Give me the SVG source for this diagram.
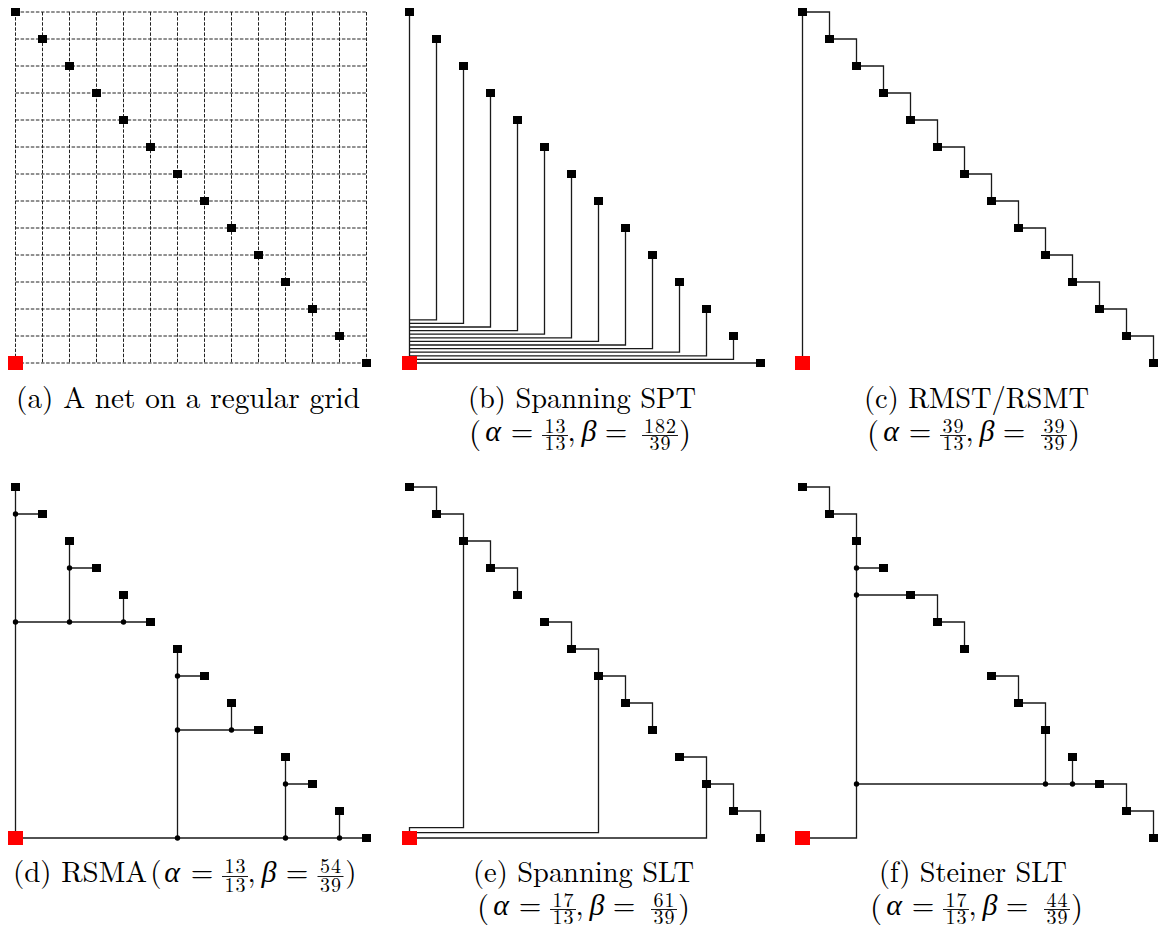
<svg xmlns="http://www.w3.org/2000/svg" width="1158" height="929" viewBox="0 0 1158 929">
<style>
.grid{stroke:#222;stroke-width:1;stroke-dasharray:3.5 1.6;fill:none}
.w{stroke:#1a1a1a;stroke-width:1.3;fill:none}
.bar{stroke:#000;stroke-width:0.9}
svg text{font-family:"Latin Modern Roman","Liberation Serif",serif !important;fill:#000}
.cap{font-size:29px}
.ml{font-size:29px;text-anchor:middle}
.gi{font-family:"Liberation Serif",serif;font-style:italic;font-size:30px}
.fr{font-size:20px;letter-spacing:1px}
.pb{font-size:31px}
</style>
<defs>
<rect id="sink" x="-4.5" y="-4" width="9" height="8" fill="#000"/>
<rect id="src" x="-7.5" y="-7" width="15" height="14" fill="#f00"/>
<circle id="stp" r="2.7" fill="#000"/>
</defs>
<rect width="1158" height="929" fill="#fff"/>

<!-- Panel (a) grid -->
<g id="grid-a" class="grid">
<path d="M15.5 12H366.5M15.5 39H366.5M15.5 66H366.5M15.5 93H366.5M15.5 120H366.5M15.5 147H366.5M15.5 174H366.5M15.5 201H366.5M15.5 228H366.5M15.5 255H366.5M15.5 282H366.5M15.5 309H366.5M15.5 336H366.5M15.5 363H366.5"/>
<path d="M15.5 12V363M42.5 12V363M69.5 12V363M96.5 12V363M123.5 12V363M150.5 12V363M177.5 12V363M204.5 12V363M231.5 12V363M258.5 12V363M285.5 12V363M312.5 12V363M339.5 12V363M366.5 12V363"/>
</g>

<!-- Connectors -->
<g id="connectors" class="w">
<g id="wires-b">
<path d="M409.5 363V12"/>
<path d="M409.5 319.8H436.5V39M409.5 323.4H463.5V66M409.5 327H490.5V93M409.5 330.6H517.5V120M409.5 334.2H544.5V147M409.5 337.8H571.5V174M409.5 341.4H598.5V201M409.5 345H625.5V228M409.5 348.6H652.5V255M409.5 352.2H679.5V282M409.5 355.8H706.5V309M409.5 359.4H733.5V336M409.5 363H760.5"/>
</g>
<g id="wires-c">
<path d="M802.5 363V12H829.5V39H856.5V66H883.5V93H910.5V120H937.5V147H964.5V174H991.5V201H1018.5V228H1045.5V255H1072.5V282H1099.5V309H1126.5V336H1153.5V363"/>
</g>
<g id="wires-d">
<path d="M15.5 487V838H366.5M15.5 514H42.5M15.5 622H150.5M69.5 541V622M69.5 568H96.5M123.5 595V622M177.5 649V838M177.5 676H204.5M177.5 730H258.5M231.5 703V730M285.5 757V838M285.5 784H312.5M339.5 811V838"/>
</g>
<g id="wires-e">
<path d="M409.5 487H436.5V514H463.5V541H490.5V568H517.5V595"/>
<path d="M544.5 622H571.5V649H598.5V676H625.5V703H652.5V730"/>
<path d="M679.5 757H706.5V784H733.5V811H760.5V838"/>
<path d="M409.5 838V827.7H463.5V541M409.5 832.7H598.5V676M409.5 838H706.5V784"/>
</g>
<g id="wires-f">
<path d="M802.5 487H829.5V514H856.5V838H802.5"/>
<path d="M856.5 568H883.5M856.5 595H937.5V622H964.5V649"/>
<path d="M991.5 676H1018.5V703H1045.5V784"/>
<path d="M856.5 784H1126.5V811H1153.5V838M1072.5 757V784"/>
</g>
</g>

<!-- Panel (a) nodes -->
<g id="a-nodes">
<g id="a-t0"><use href="#sink" x="15.5" y="12"/></g>
<g id="a-t1"><use href="#sink" x="42.5" y="39"/></g>
<g id="a-t2"><use href="#sink" x="69.5" y="66"/></g>
<g id="a-t3"><use href="#sink" x="96.5" y="93"/></g>
<g id="a-t4"><use href="#sink" x="123.5" y="120"/></g>
<g id="a-t5"><use href="#sink" x="150.5" y="147"/></g>
<g id="a-t6"><use href="#sink" x="177.5" y="174"/></g>
<g id="a-t7"><use href="#sink" x="204.5" y="201"/></g>
<g id="a-t8"><use href="#sink" x="231.5" y="228"/></g>
<g id="a-t9"><use href="#sink" x="258.5" y="255"/></g>
<g id="a-t10"><use href="#sink" x="285.5" y="282"/></g>
<g id="a-t11"><use href="#sink" x="312.5" y="309"/></g>
<g id="a-t12"><use href="#sink" x="339.5" y="336"/></g>
<g id="a-t13"><use href="#sink" x="366.5" y="363"/></g>
<g id="a-src"><use href="#src" x="15.5" y="363"/></g>
</g>

<!-- Panel (b) nodes -->
<g id="b-nodes">
<g id="b-t0"><use href="#sink" x="409.5" y="12"/></g>
<g id="b-t1"><use href="#sink" x="436.5" y="39"/></g>
<g id="b-t2"><use href="#sink" x="463.5" y="66"/></g>
<g id="b-t3"><use href="#sink" x="490.5" y="93"/></g>
<g id="b-t4"><use href="#sink" x="517.5" y="120"/></g>
<g id="b-t5"><use href="#sink" x="544.5" y="147"/></g>
<g id="b-t6"><use href="#sink" x="571.5" y="174"/></g>
<g id="b-t7"><use href="#sink" x="598.5" y="201"/></g>
<g id="b-t8"><use href="#sink" x="625.5" y="228"/></g>
<g id="b-t9"><use href="#sink" x="652.5" y="255"/></g>
<g id="b-t10"><use href="#sink" x="679.5" y="282"/></g>
<g id="b-t11"><use href="#sink" x="706.5" y="309"/></g>
<g id="b-t12"><use href="#sink" x="733.5" y="336"/></g>
<g id="b-t13"><use href="#sink" x="760.5" y="363"/></g>
<g id="b-src"><use href="#src" x="409.5" y="363"/></g>
</g>

<!-- Panel (c) nodes -->
<g id="c-nodes">
<g id="c-t0"><use href="#sink" x="802.5" y="12"/></g>
<g id="c-t1"><use href="#sink" x="829.5" y="39"/></g>
<g id="c-t2"><use href="#sink" x="856.5" y="66"/></g>
<g id="c-t3"><use href="#sink" x="883.5" y="93"/></g>
<g id="c-t4"><use href="#sink" x="910.5" y="120"/></g>
<g id="c-t5"><use href="#sink" x="937.5" y="147"/></g>
<g id="c-t6"><use href="#sink" x="964.5" y="174"/></g>
<g id="c-t7"><use href="#sink" x="991.5" y="201"/></g>
<g id="c-t8"><use href="#sink" x="1018.5" y="228"/></g>
<g id="c-t9"><use href="#sink" x="1045.5" y="255"/></g>
<g id="c-t10"><use href="#sink" x="1072.5" y="282"/></g>
<g id="c-t11"><use href="#sink" x="1099.5" y="309"/></g>
<g id="c-t12"><use href="#sink" x="1126.5" y="336"/></g>
<g id="c-t13"><use href="#sink" x="1153.5" y="363"/></g>
<g id="c-src"><use href="#src" x="802.5" y="363"/></g>
</g>

<!-- Panel (d) nodes -->
<g id="d-nodes">
<g id="d-s1"><use href="#stp" x="15.5" y="514"/></g>
<g id="d-s2"><use href="#stp" x="15.5" y="622"/></g>
<g id="d-s3"><use href="#stp" x="69.5" y="568"/></g>
<g id="d-s4"><use href="#stp" x="69.5" y="622"/></g>
<g id="d-s5"><use href="#stp" x="123.5" y="622"/></g>
<g id="d-s6"><use href="#stp" x="177.5" y="676"/></g>
<g id="d-s7"><use href="#stp" x="177.5" y="730"/></g>
<g id="d-s8"><use href="#stp" x="231.5" y="730"/></g>
<g id="d-s9"><use href="#stp" x="177.5" y="838"/></g>
<g id="d-s10"><use href="#stp" x="285.5" y="784"/></g>
<g id="d-s11"><use href="#stp" x="285.5" y="838"/></g>
<g id="d-s12"><use href="#stp" x="339.5" y="838"/></g>
<g id="d-t0"><use href="#sink" x="15.5" y="487"/></g>
<g id="d-t1"><use href="#sink" x="42.5" y="514"/></g>
<g id="d-t2"><use href="#sink" x="69.5" y="541"/></g>
<g id="d-t3"><use href="#sink" x="96.5" y="568"/></g>
<g id="d-t4"><use href="#sink" x="123.5" y="595"/></g>
<g id="d-t5"><use href="#sink" x="150.5" y="622"/></g>
<g id="d-t6"><use href="#sink" x="177.5" y="649"/></g>
<g id="d-t7"><use href="#sink" x="204.5" y="676"/></g>
<g id="d-t8"><use href="#sink" x="231.5" y="703"/></g>
<g id="d-t9"><use href="#sink" x="258.5" y="730"/></g>
<g id="d-t10"><use href="#sink" x="285.5" y="757"/></g>
<g id="d-t11"><use href="#sink" x="312.5" y="784"/></g>
<g id="d-t12"><use href="#sink" x="339.5" y="811"/></g>
<g id="d-t13"><use href="#sink" x="366.5" y="838"/></g>
<g id="d-src"><use href="#src" x="15.5" y="838"/></g>
</g>

<!-- Panel (e) nodes -->
<g id="e-nodes">
<g id="e-t0"><use href="#sink" x="409.5" y="487"/></g>
<g id="e-t1"><use href="#sink" x="436.5" y="514"/></g>
<g id="e-t2"><use href="#sink" x="463.5" y="541"/></g>
<g id="e-t3"><use href="#sink" x="490.5" y="568"/></g>
<g id="e-t4"><use href="#sink" x="517.5" y="595"/></g>
<g id="e-t5"><use href="#sink" x="544.5" y="622"/></g>
<g id="e-t6"><use href="#sink" x="571.5" y="649"/></g>
<g id="e-t7"><use href="#sink" x="598.5" y="676"/></g>
<g id="e-t8"><use href="#sink" x="625.5" y="703"/></g>
<g id="e-t9"><use href="#sink" x="652.5" y="730"/></g>
<g id="e-t10"><use href="#sink" x="679.5" y="757"/></g>
<g id="e-t11"><use href="#sink" x="706.5" y="784"/></g>
<g id="e-t12"><use href="#sink" x="733.5" y="811"/></g>
<g id="e-t13"><use href="#sink" x="760.5" y="838"/></g>
<g id="e-src"><use href="#src" x="409.5" y="838"/></g>
</g>

<!-- Panel (f) nodes -->
<g id="f-nodes">
<g id="f-s1"><use href="#stp" x="856.5" y="568"/></g>
<g id="f-s2"><use href="#stp" x="856.5" y="595"/></g>
<g id="f-s3"><use href="#stp" x="856.5" y="784"/></g>
<g id="f-s4"><use href="#stp" x="1045.5" y="784"/></g>
<g id="f-s5"><use href="#stp" x="1072.5" y="784"/></g>
<g id="f-t0"><use href="#sink" x="802.5" y="487"/></g>
<g id="f-t1"><use href="#sink" x="829.5" y="514"/></g>
<g id="f-t2"><use href="#sink" x="856.5" y="541"/></g>
<g id="f-t3"><use href="#sink" x="883.5" y="568"/></g>
<g id="f-t4"><use href="#sink" x="910.5" y="595"/></g>
<g id="f-t5"><use href="#sink" x="937.5" y="622"/></g>
<g id="f-t6"><use href="#sink" x="964.5" y="649"/></g>
<g id="f-t7"><use href="#sink" x="991.5" y="676"/></g>
<g id="f-t8"><use href="#sink" x="1018.5" y="703"/></g>
<g id="f-t9"><use href="#sink" x="1045.5" y="730"/></g>
<g id="f-t10"><use href="#sink" x="1072.5" y="757"/></g>
<g id="f-t11"><use href="#sink" x="1099.5" y="784"/></g>
<g id="f-t12"><use href="#sink" x="1126.5" y="811"/></g>
<g id="f-t13"><use href="#sink" x="1153.5" y="838"/></g>
<g id="f-src"><use href="#src" x="802.5" y="838"/></g>
</g>

<!-- Captions -->
<g id="captions">
<g id="cap-a">
<text class="cap" x="16" y="408" textLength="344" lengthAdjust="spacingAndGlyphs">(a) A net on a regular grid</text>
</g>

<g id="cap-b">
<text class="cap" x="468" y="408" textLength="228" lengthAdjust="spacingAndGlyphs">(b) Spanning SPT</text>
<text class="ml"><tspan class="pb" x="475" y="442.5">(</tspan><tspan class="gi" x="493" y="441">α</tspan><tspan x="522" y="441">=</tspan><tspan class="fr" x="555.5" y="433">13</tspan><tspan class="fr" x="555.5" y="449.5">13</tspan><tspan x="571.5" y="441">,</tspan><tspan class="gi" x="589" y="441">β</tspan><tspan x="616" y="441">=</tspan><tspan class="fr" x="660.5" y="433">182</tspan><tspan class="fr" x="660.5" y="449.5">39</tspan><tspan class="pb" x="685" y="442.5">)</tspan></text>
<line class="bar" x1="542" y1="435.5" x2="568" y2="435.5"/>
<line class="bar" x1="642" y1="435.5" x2="678" y2="435.5"/>
</g>

<g id="cap-c">
<text class="cap" x="864" y="408" textLength="225" lengthAdjust="spacingAndGlyphs">(c) RMST/RSMT</text>
<text class="ml"><tspan class="pb" x="873" y="442.5">(</tspan><tspan class="gi" x="891" y="441">α</tspan><tspan x="920" y="441">=</tspan><tspan class="fr" x="953.5" y="433">39</tspan><tspan class="fr" x="953.5" y="449.5">13</tspan><tspan x="969.5" y="441">,</tspan><tspan class="gi" x="987" y="441">β</tspan><tspan x="1014" y="441">=</tspan><tspan class="fr" x="1054.5" y="433">39</tspan><tspan class="fr" x="1054.5" y="449.5">39</tspan><tspan class="pb" x="1074" y="442.5">)</tspan></text>
<line class="bar" x1="940" y1="435.5" x2="966" y2="435.5"/>
<line class="bar" x1="1041" y1="435.5" x2="1067" y2="435.5"/>
</g>

<g id="cap-d">
<text class="cap" x="13" y="882" textLength="134" lengthAdjust="spacingAndGlyphs">(d) RSMA</text>
<text class="ml"><tspan x="156" y="882">(</tspan><tspan class="gi" x="172" y="882">α</tspan><tspan x="202" y="882">=</tspan><tspan class="fr" x="235.5" y="873">13</tspan><tspan class="fr" x="235.5" y="891.5">13</tspan><tspan x="251.5" y="882">,</tspan><tspan class="gi" x="269" y="882">β</tspan><tspan x="297" y="882">=</tspan><tspan class="fr" x="331" y="873">54</tspan><tspan class="fr" x="331" y="891.5">39</tspan><tspan x="351" y="882">)</tspan></text>
<line class="bar" x1="222" y1="876.5" x2="248" y2="876.5"/>
<line class="bar" x1="317.5" y1="876.5" x2="343.5" y2="876.5"/>
</g>

<g id="cap-e">
<text class="cap" x="473" y="882" textLength="221" lengthAdjust="spacingAndGlyphs">(e) Spanning SLT</text>
<text class="ml"><tspan class="pb" x="483" y="916.5">(</tspan><tspan class="gi" x="501" y="915">α</tspan><tspan x="530" y="915">=</tspan><tspan class="fr" x="563.5" y="907">17</tspan><tspan class="fr" x="563.5" y="923.5">13</tspan><tspan x="579.5" y="915">,</tspan><tspan class="gi" x="597" y="915">β</tspan><tspan x="624" y="915">=</tspan><tspan class="fr" x="664.5" y="907">61</tspan><tspan class="fr" x="664.5" y="923.5">39</tspan><tspan class="pb" x="684" y="916.5">)</tspan></text>
<line class="bar" x1="550" y1="909.5" x2="576" y2="909.5"/>
<line class="bar" x1="651" y1="909.5" x2="677" y2="909.5"/>
</g>

<g id="cap-f">
<text class="cap" x="879" y="882" textLength="188" lengthAdjust="spacingAndGlyphs">(f) Steiner SLT</text>
<text class="ml"><tspan class="pb" x="876" y="916.5">(</tspan><tspan class="gi" x="894" y="915">α</tspan><tspan x="923" y="915">=</tspan><tspan class="fr" x="956.5" y="907">17</tspan><tspan class="fr" x="956.5" y="923.5">13</tspan><tspan x="972.5" y="915">,</tspan><tspan class="gi" x="990" y="915">β</tspan><tspan x="1017" y="915">=</tspan><tspan class="fr" x="1057.5" y="907">44</tspan><tspan class="fr" x="1057.5" y="923.5">39</tspan><tspan class="pb" x="1077" y="916.5">)</tspan></text>
<line class="bar" x1="943" y1="909.5" x2="969" y2="909.5"/>
<line class="bar" x1="1044" y1="909.5" x2="1070" y2="909.5"/>
</g>
</g>
</svg>
